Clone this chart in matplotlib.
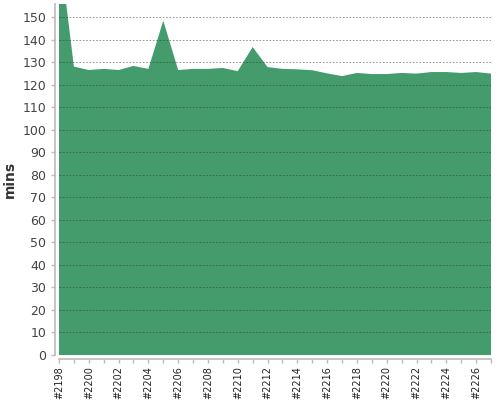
import matplotlib
matplotlib.use("Agg")
import matplotlib.pyplot as plt
from matplotlib.ticker import FixedLocator

builds = list(range(2198, 2228))
mins = [182, 128.0, 126.5, 127.0, 126.5, 128.3, 127.0, 148.4, 126.5, 127.0,
        127.0, 127.4, 126.0, 136.7, 127.8, 127.0, 126.8, 126.4, 125.0, 123.8,
        125.2, 124.7, 124.7, 125.2, 124.9, 125.6, 125.6, 125.2, 125.6, 124.9]
tick_builds = builds[::2]
tick_labels = ["#%d" % b for b in tick_builds]

fig = plt.figure(figsize=(5, 4), dpi=100)
ax = fig.add_axes([59/500, 1-355/400, (491-59)/500, (355-4)/400])

ax.fill_between(builds, mins, 0, color="#449b6b", lw=0, zorder=1)
ax.set_xlim(builds[0], builds[-1])
ax.set_ylim(0, 155.8)

ax.set_yticks(range(0, 151, 10))
ax.grid(axis="y", color="#333333", linestyle=(0, (2, 2)), linewidth=0.6, alpha=0.6, zorder=2)
ax.set_axisbelow(False)

ax.xaxis.set_major_locator(FixedLocator(tick_builds))
ax.xaxis.set_minor_locator(FixedLocator(builds))
ax.tick_params(axis="y", labelsize=9, colors="#bbbbbb", labelcolor="#444444", length=3, width=1)
ax.tick_params(axis="x", which="both", colors="#bbbbbb", labelcolor="#222222", length=3, width=1)
ax.set_xticklabels(tick_labels)
ax.tick_params(axis="x", labelrotation=90, labelsize=7, pad=2)

for s in ["top", "right"]:
    ax.spines[s].set_visible(False)
for s in ["left", "bottom"]:
    ax.spines[s].set_color("#bbbbbb")
    ax.spines[s].set_linewidth(1.2)
ax.spines["left"].set_position(("outward", 2.6))
ax.spines["bottom"].set_position(("outward", 2.9))

ax.set_ylabel("mins", fontsize=10, fontweight="bold", color="#333333", labelpad=4)

fig.savefig("out.png", dpi=100)
